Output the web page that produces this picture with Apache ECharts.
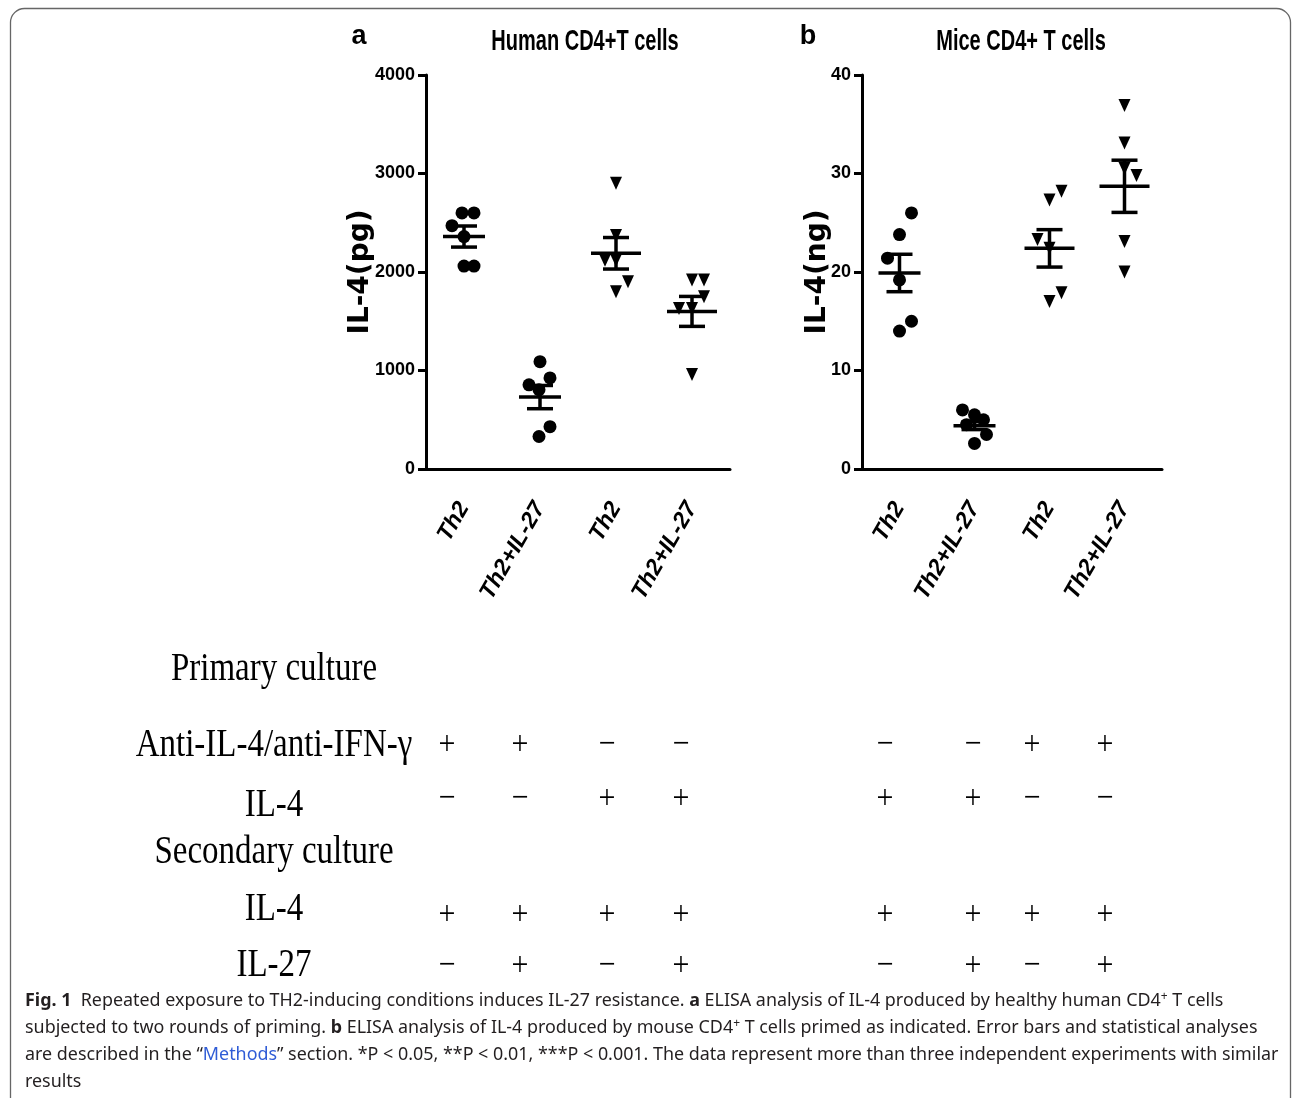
<!DOCTYPE html>
<html>
<head>
<meta charset="utf-8">
<title>IL-4 after two rounds of priming</title>
<script src="https://cdn.jsdelivr.net/npm/echarts@6/dist/echarts.min.js"></script>
<style>
  html, body { margin: 0; padding: 0; background: #fff; }
  #chart { width: 1292px; height: 1098px; }
</style>
</head>
<body>
<div id="chart"></div>
<script>
// values
const categories = ['Th2', 'Th2+IL-27', 'Th2', 'Th2+IL-27'];
const markers = ['circle', 'circle', 'triangle', 'triangle'];

const humanPoints = [
  [2600, 2600, 2470, 2360, 2060, 2060],
  [1090, 925, 855, 805, 430, 330],
  [2900, 2370, 2120, 2120, 1900, 1800],
  [1920, 1920, 1750, 1630, 1630, 960]
];
const humanMean = [2360, 730, 2190, 1600];
const humanSem = [107, 118, 160, 152];

const micePoints = [
  [26.0, 23.8, 21.4, 19.2, 15.0, 14.0],
  [6.0, 5.5, 5.0, 4.5, 3.5, 2.6],
  [28.2, 27.3, 23.3, 22.4, 17.9, 17.0],
  [36.9, 33.1, 30.5, 29.8, 23.1, 20.0]
];
const miceMean = [19.9, 4.4, 22.4, 28.7];
const miceSem = [1.9, 0.4, 1.9, 2.65];

const humanTicks = {max: 4000, interval: 1000};
const miceTicks = {max: 40, interval: 10};

const rowLabels = ['Primary culture', 'Anti-IL-4/anti-IFN-\u03b3', 'IL-4', 'Secondary culture', 'IL-4', 'IL-27'];
const humanSigns = [['+', '+', '-', '-'], ['-', '-', '+', '+'], ['+', '+', '+', '+'], ['-', '+', '-', '+']];
const miceSigns = [['-', '-', '+', '+'], ['+', '+', '-', '-'], ['+', '+', '+', '+'], ['-', '+', '-', '+']];

// small horizontal scatter of the dots (pixels), layout only
const humanJitter = [[-2, 10, -12, 0, 0, 10], [0, 10, -11, -1, 10, -1], [0, 0, -11, 0, 12, 0], [0, 12, 12, -13, 0, 0]];
const miceJitter = [[12, 0, -12, 0, 12, 0], [-12, 0, 9, -8, 12, 0], [12, 0, -12, 0, 12, 0], [0, 0, 0, 12, 0, 0]];

const chart = echarts.init(document.getElementById('chart'), null, {renderer: 'canvas'});

function pointSeries(points, jitter, axis) {
  return points.map(function (vals, g) {
    return {
      type: 'scatter',
      xAxisIndex: axis, yAxisIndex: axis,
      symbol: markers[g],
      symbolSize: markers[g] === 'circle' ? 13 : [12, 13],
      symbolRotate: markers[g] === 'circle' ? 0 : 180,
      itemStyle: {color: '#000', opacity: 1},
      silent: true,
      data: vals.map(function (v, i) {
        return {value: [g, v], symbolOffset: [jitter[g][i], 0]};
      })
    };
  });
}

function errorSeries(mean, sem, axis) {
  return {
    type: 'custom',
    xAxisIndex: axis, yAxisIndex: axis,
    silent: true,
    z: 5,
    data: mean.map(function (m, g) { return [g, m, sem[g]]; }),
    renderItem: function (params, api) {
      const g = api.value(0), m = api.value(1), s = api.value(2);
      const mid = api.coord([g, m]);
      const hi = api.coord([g, m + s]);
      const lo = api.coord([g, m - s]);
      const half = markers[g] === 'circle' ? 21 : 25;
      const cap = 13;
      const st = {stroke: '#000', lineWidth: 3.5};
      return {
        type: 'group',
        children: [
          {type: 'line', shape: {x1: mid[0] - half, y1: mid[1], x2: mid[0] + half, y2: mid[1]}, style: st},
          {type: 'line', shape: {x1: mid[0], y1: hi[1], x2: mid[0], y2: lo[1]}, style: st},
          {type: 'line', shape: {x1: mid[0] - cap, y1: hi[1], x2: mid[0] + cap, y2: hi[1]}, style: st},
          {type: 'line', shape: {x1: mid[0] - cap, y1: lo[1], x2: mid[0] + cap, y2: lo[1]}, style: st}
        ]
      };
    }
  };
}

function xAxis(grid) {
  return {
    type: 'category', gridIndex: grid, data: categories,
    axisLine: {lineStyle: {color: '#000', width: 3}},
    axisTick: {alignWithLabel: true, length: 8, lineStyle: {color: '#000', width: 3}},
    axisLabel: {
      rotate: 60, margin: 35, color: '#000', fontSize: 23,
      fontStyle: 'italic', fontWeight: 'bold', fontFamily: 'Liberation Sans'
    }
  };
}

function yAxis(grid, ticks, name, gap) {
  return {
    type: 'value', gridIndex: grid, min: 0, max: ticks.max, interval: ticks.interval,
    name: name, nameLocation: 'middle', nameRotate: 90, nameGap: gap, nameMoveOverlap: false,
    nameTextStyle: {color: '#000', fontSize: 28, fontWeight: 'bold', fontFamily: 'DejaVu Sans'},
    axisLine: {show: true, lineStyle: {color: '#000', width: 3}},
    axisTick: {show: true, length: 8, lineStyle: {color: '#000', width: 3}},
    splitLine: {show: false},
    axisLabel: {
      margin: 11, color: '#000', fontSize: 18, fontWeight: 'bold', fontFamily: 'Liberation Sans',
      formatter: function (v) { return String(v); }
    }
  };
}

// table under the plots
const rowLabelY = [670, 746, 806, 853, 910, 966];
const signRowY = [745, 799, 915, 966];
const humanColX = [447, 520, 607, 681];
const miceColX = [885, 973, 1032, 1105];

const graphics = [];
graphics.push({
  type: 'rect', shape: {x: 10.5, y: 8.5, width: 1280, height: 1200, r: [14, 14, 0, 0]},
  style: {fill: 'none', stroke: '#666', lineWidth: 1.3}, silent: true
});

function txt(x, y, text, font, extra) {
  return Object.assign({
    type: 'text', x: x, y: y, silent: true,
    style: {text: text, font: font, fill: '#000', align: 'center', verticalAlign: 'middle',
            textAlign: 'center', textVerticalAlign: 'middle'}
  }, extra || {});
}

graphics.push(txt(359, 37, 'a', 'bold 27px "Liberation Sans"'));
graphics.push(txt(808, 37, 'b', 'bold 27px "Liberation Sans"'));
graphics.push(txt(585, 42, 'Human CD4+T cells', 'bold 25px "Liberation Sans"', {scaleX: 0.8, scaleY: 1.2}));
graphics.push(txt(1021, 42, 'Mice CD4+ T cells', 'bold 25px "Liberation Sans"', {scaleX: 0.8, scaleY: 1.2}));

rowLabels.forEach(function (label, i) {
  graphics.push(txt(274, rowLabelY[i], label, '33px "Liberation Serif"', {scaleY: 1.2}));
});

function signText(s) { return s === '+' ? '+' : '\u2212'; }
[[humanSigns, humanColX], [miceSigns, miceColX]].forEach(function (pair) {
  pair[0].forEach(function (row, r) {
    row.forEach(function (s, c) {
      graphics.push(txt(pair[1][c], signRowY[r], signText(s), '30px "Liberation Serif"', {scaleY: 1.15}));
    });
  });
});

// caption
const capFont = 'Noto Sans';
const capSize = 17.9;
const capRich = {
  b: {fontWeight: 'bold', fontFamily: capFont, fontSize: capSize, fill: '#231f20'},
  sup: {fontFamily: capFont, fontSize: 12, fill: '#231f20', verticalAlign: 'top', padding: [0, 0, 8, 0]},
  link: {fontFamily: capFont, fontSize: capSize, fill: '#2f5cd6'}
};
const captionLines = [
  '{b|Fig. 1}  Repeated exposure to TH2-inducing conditions induces IL-27 resistance. {b|a} ELISA analysis of IL-4 produced by healthy human CD4{sup|+} T cells',
  'subjected to two rounds of priming. {b|b} ELISA analysis of IL-4 produced by mouse CD4{sup|+} T cells primed as indicated. Error bars and statistical analyses',
  'are described in the \u201c{link|Methods}\u201d section. *P < 0.05, **P < 0.01, ***P < 0.001. The data represent more than three independent experiments with similar',
  'results'
];
captionLines.forEach(function (line, i) {
  graphics.push({
    type: 'text', x: 25, y: 1001 + i * 27, silent: true,
    style: {text: line, fontFamily: capFont, fontSize: capSize, fill: '#231f20',
            align: 'left', verticalAlign: 'middle', textAlign: 'left', textVerticalAlign: 'middle', rich: capRich}
  });
});

const option = {
  backgroundColor: '#fff',
  animation: false,
  grid: [
    {left: 426, top: 75, width: 304, height: 394},
    {left: 862, top: 75, width: 300, height: 394}
  ],
  xAxis: [xAxis(0), xAxis(1)],
  yAxis: [yAxis(0, humanTicks, 'IL-4(pg)', 51), yAxis(1, miceTicks, 'IL-4(ng)', 30)],
  series: []
    .concat(pointSeries(humanPoints, humanJitter, 0))
    .concat(pointSeries(micePoints, miceJitter, 1))
    .concat([errorSeries(humanMean, humanSem, 0), errorSeries(miceMean, miceSem, 1)]),
  graphic: {elements: graphics}
};

chart.setOption(option);
</script>
</body>
</html>
